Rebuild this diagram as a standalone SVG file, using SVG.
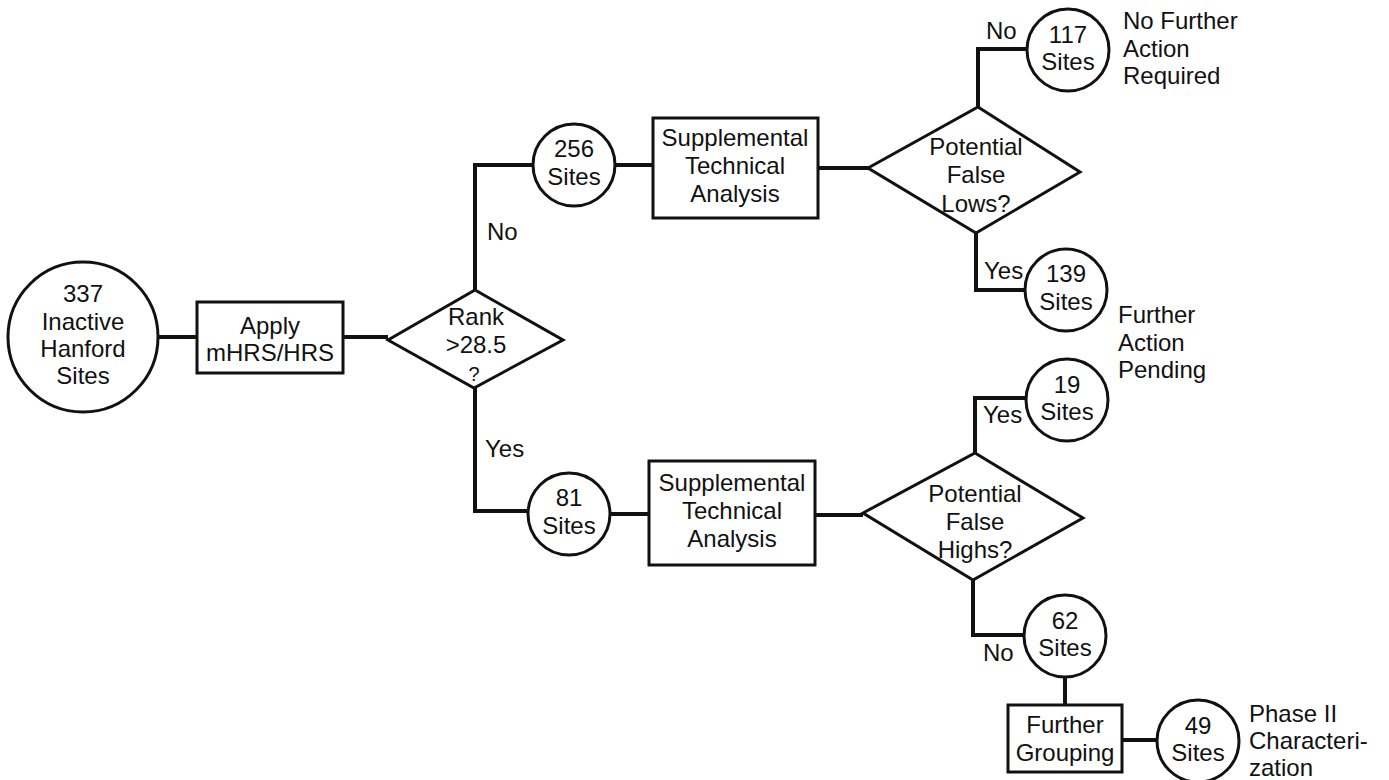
<svg xmlns="http://www.w3.org/2000/svg" width="1389" height="780" viewBox="0 0 1389 780">
<style>
.s{fill:#fff;stroke:#111;stroke-width:3}
.c{fill:none;stroke:#111;stroke-width:4;stroke-linejoin:miter}
text{font-family:"Liberation Sans",Arial,sans-serif;font-size:24px;fill:#111}
.m{text-anchor:middle}
</style>
<rect width="1389" height="780" fill="#fff"/>
<g id="connectors">
<path class="c" d="M157 337H197M343 337H388"/>
<path class="c" d="M475 290V165H533M615 165H653"/>
<path class="c" d="M475 388V511H528M610 514H649"/>
<path class="c" d="M818 168H868M978 107V49H1028M976 233V290H1025"/>
<path class="c" d="M815 515H863M975 453V398H1027M973 580V635H1024"/>
<path class="c" d="M1065 677V705M1122 740H1157"/>
</g>
<g id="n337"><circle class="s" cx="83" cy="337" r="75"/>
<text class="m" x="83" y="302">337</text><text class="m" x="83" y="330">Inactive</text><text class="m" x="83" y="357">Hanford</text><text class="m" x="83" y="384">Sites</text></g>
<g id="apply"><rect class="s" x="197" y="302" width="146" height="71"/>
<text class="m" x="270" y="334">Apply</text><text class="m" x="270" y="361">mHRS/HRS</text></g>
<g id="rank"><polygon class="s" points="388,340 475,290 563,340 474,388"/>
<text class="m" x="476" y="325">Rank</text><text class="m" x="476" y="353">&gt;28.5</text><text class="m" x="474" y="381" style="font-size:20px">?</text></g>
<text x="487" y="240">No</text>
<text x="485" y="457">Yes</text>
<g id="n256"><circle class="s" cx="574" cy="165" r="41"/>
<text class="m" x="574" y="157">256</text><text class="m" x="574" y="185">Sites</text></g>
<g id="sta1"><rect class="s" x="653" y="118" width="165" height="100"/>
<text class="m" x="735" y="146">Supplemental</text><text class="m" x="735" y="174">Technical</text><text class="m" x="735" y="202">Analysis</text></g>
<g id="n81"><circle class="s" cx="569" cy="514" r="41"/>
<text class="m" x="569" y="506">81</text><text class="m" x="569" y="534">Sites</text></g>
<g id="sta2"><rect class="s" x="649" y="461" width="166" height="104"/>
<text class="m" x="732" y="491">Supplemental</text><text class="m" x="732" y="519">Technical</text><text class="m" x="732" y="547">Analysis</text></g>
<g id="lows"><polygon class="s" points="868,168 978,107 1080,172 976,233"/>
<text class="m" x="976" y="155">Potential</text><text class="m" x="976" y="183">False</text><text class="m" x="976" y="212">Lows?</text></g>
<text x="986" y="39">No</text>
<text x="984" y="279">Yes</text>
<g id="n117"><circle class="s" cx="1068" cy="50" r="41"/>
<text class="m" x="1068" y="43">117</text><text class="m" x="1068" y="70">Sites</text></g>
<text x="1123" y="29">No Further</text><text x="1123" y="57">Action</text><text x="1123" y="84">Required</text>
<g id="n139"><circle class="s" cx="1066" cy="290" r="41"/>
<text class="m" x="1066" y="282">139</text><text class="m" x="1066" y="310">Sites</text></g>
<text x="1118" y="323">Further</text><text x="1118" y="351">Action</text><text x="1118" y="378">Pending</text>
<g id="highs"><polygon class="s" points="863,513 975,453 1083,518 973,580"/>
<text class="m" x="975" y="502">Potential</text><text class="m" x="975" y="530">False</text><text class="m" x="975" y="558">Highs?</text></g>
<text x="983" y="423">Yes</text>
<text x="983" y="661">No</text>
<g id="n19"><circle class="s" cx="1067" cy="400" r="41"/>
<text class="m" x="1067" y="393">19</text><text class="m" x="1067" y="420">Sites</text></g>
<g id="n62"><circle class="s" cx="1065" cy="636" r="41"/>
<text class="m" x="1065" y="629">62</text><text class="m" x="1065" y="656">Sites</text></g>
<g id="grouping"><rect class="s" x="1008" y="705" width="114" height="67"/>
<text class="m" x="1065" y="733">Further</text><text class="m" x="1065" y="761">Grouping</text></g>
<g id="n49"><circle class="s" cx="1198" cy="741" r="41"/>
<text class="m" x="1198" y="734">49</text><text class="m" x="1198" y="761">Sites</text></g>
<text x="1249" y="722">Phase II</text><text x="1249" y="749">Characteri-</text><text x="1249" y="776">zation</text>
</svg>
